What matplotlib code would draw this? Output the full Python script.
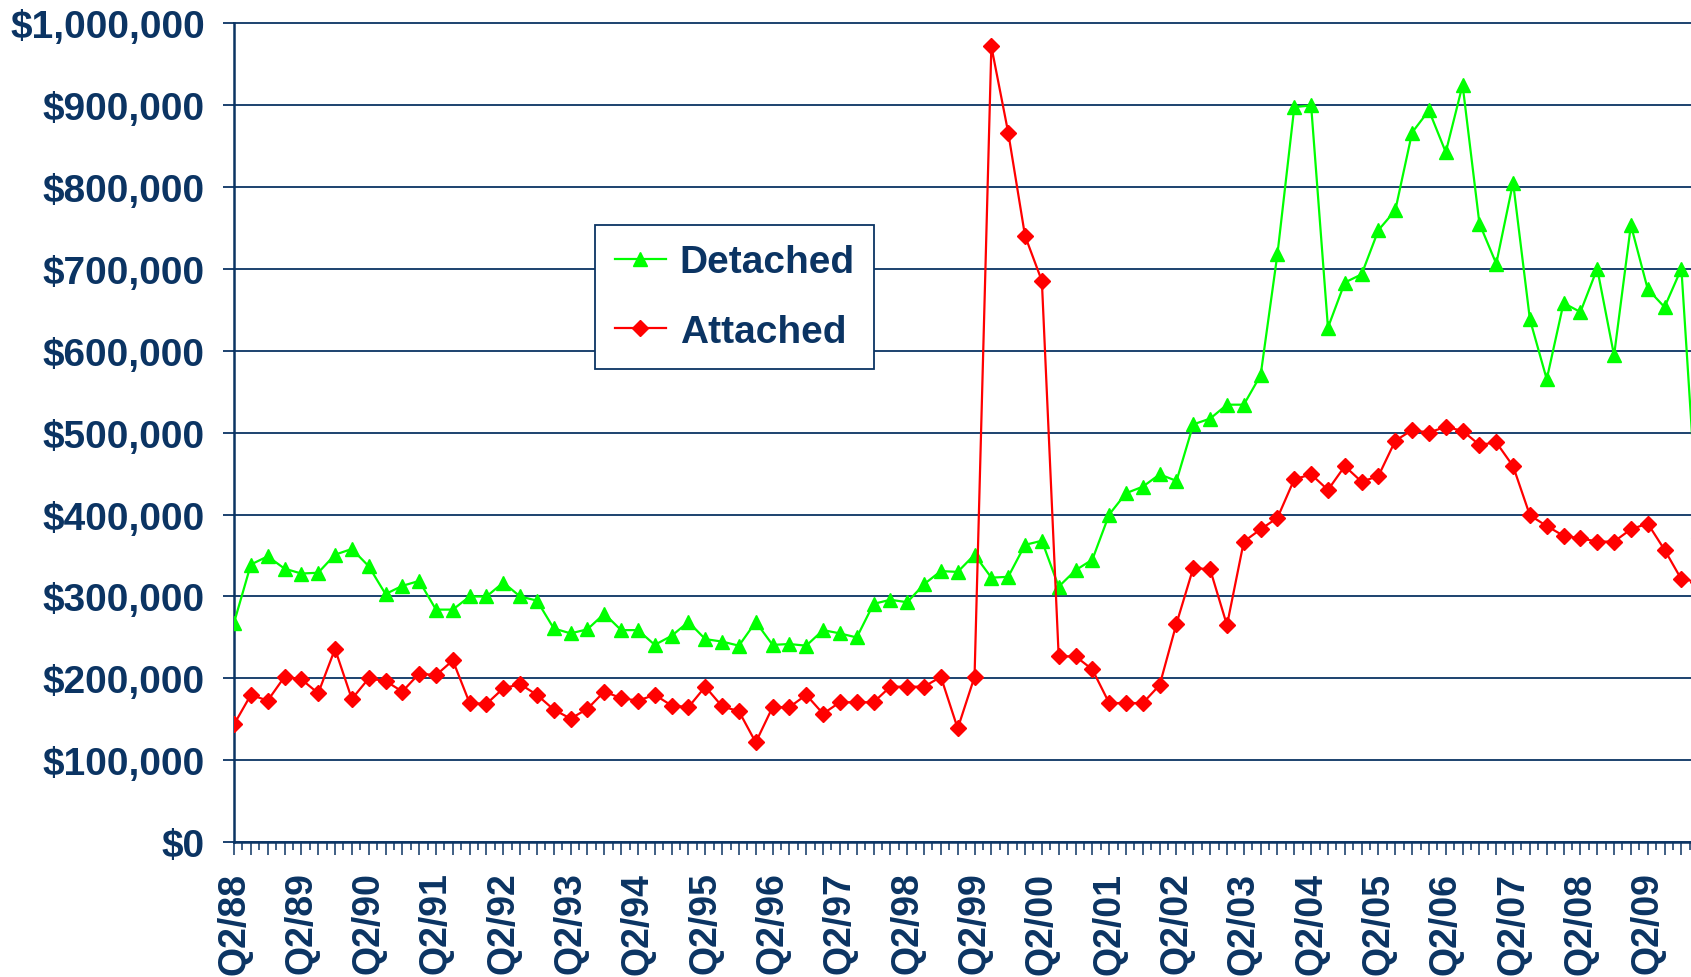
#----libraries----------------------------------------------------------
import numpy as np
import matplotlib.pyplot as plt
from matplotlib.ticker import FuncFormatter, MultipleLocator
#----data (thousands of $, quarterly from Q2/88)--------------------------
DETACHED=[268,339,349,334,328,329,351,358,337,303,313,319,284,284,300,300,
          317,300,295,261,255,260,279,259,259,241,252,269,248,245,240,269,
          241,242,240,259,255,250,291,296,293,315,331,330,351,323,324,363,
          368,312,332,345,400,426,434,449,441,510,517,534,534,570,718,897,
          899,628,683,693,747,771,866,893,842,924,755,706,805,638,565,658,
          647,700,594,753,675,653,700,380]
ATTACHED=[144,180,173,202,199,182,236,175,200,197,184,206,204,222,170,169,
          188,193,180,162,151,163,184,176,173,180,167,165,190,166,160,122,
          165,165,180,157,171,171,171,190,190,190,202,139,202,971,866,740,
          685,227,227,211,170,170,170,192,267,335,333,265,367,382,396,443,
          449,430,459,440,447,490,503,500,507,502,485,488,459,399,386,374,
          371,367,367,382,389,357,321,318]
TICKLABELS=['Q2/88','Q2/89','Q2/90','Q2/91','Q2/92','Q2/93','Q2/94','Q2/95',
            'Q2/96','Q2/97','Q2/98','Q2/99','Q2/00','Q2/01','Q2/02','Q2/03',
            'Q2/04','Q2/05','Q2/06','Q2/07','Q2/08','Q2/09']
#----style---------------------------------------------------------------
NAVY='#0B3463'
plt.rcParams['font.family']=['Liberation Sans','DejaVu Sans']
plt.rcParams['font.weight']='bold'
#----plot----------------------------------------------------------------
fig=plt.figure(figsize=(16.91,9.78),dpi=100)
ax=fig.add_axes([0.1384,0.1376,1.0-0.1384,0.8382])
X=np.arange(len(DETACHED))
ax.plot(X,np.array(DETACHED)*1000,color='#00FF00',lw=1.6,marker='^',ms=10,
        label='Detached',zorder=3)
ax.plot(X,np.array(ATTACHED)*1000,color='#FF0000',lw=1.6,marker='D',ms=8,
        label='Attached',zorder=3)

ax.set_xticks(X)
ax.set_xticklabels([TICKLABELS[i//4] if i%4==0 and i//4<len(TICKLABELS) else '' for i in X],
                   rotation=90)
ax.xaxis.set_minor_locator(MultipleLocator(0.5))
#set limits after the ticks, set_xticks widens the view otherwise
ax.set_xlim(0,(1691-234)/16.83)
ax.set_ylim(0,1000000)
ax.yaxis.set_major_locator(MultipleLocator(100000))
ax.yaxis.set_major_formatter(FuncFormatter(lambda v,p:'${:,.0f}'.format(v)))
ax.grid(axis='y',color=NAVY,lw=1.3)
for gl in ax.get_ygridlines():
  gl.set_clip_on(False)

ax.tick_params(axis='x',which='major',length=9,width=1.1,color=NAVY,pad=12,
               labelsize=27,labelcolor=NAVY)
ax.tick_params(axis='x',which='minor',length=5.5,width=1.1,color=NAVY)
ax.tick_params(axis='y',length=8,width=1.3,color=NAVY,pad=13,
               labelsize=28,labelcolor=NAVY)

for s in ['top','right']:
  ax.spines[s].set_visible(False)
ax.spines['left'].set_color(NAVY)
ax.spines['left'].set_linewidth(1.8)
ax.spines['bottom'].set_color(NAVY)
ax.spines['bottom'].set_linewidth(1.8)

leg=ax.legend(loc='upper left',bbox_to_anchor=(0.3519,0.7689),
              bbox_transform=fig.transFigure,borderaxespad=0,
              fontsize=28,handlelength=1.33,handletextpad=0.35,
              borderpad=0.5,labelspacing=0.85,fancybox=False,framealpha=1)
leg.get_frame().set_edgecolor(NAVY)
leg.get_frame().set_linewidth(1.3)
for t in leg.get_texts():
  t.set_color(NAVY)
  t.set_fontweight('bold')

plt.savefig('out.png',dpi=100)
plt.close()
